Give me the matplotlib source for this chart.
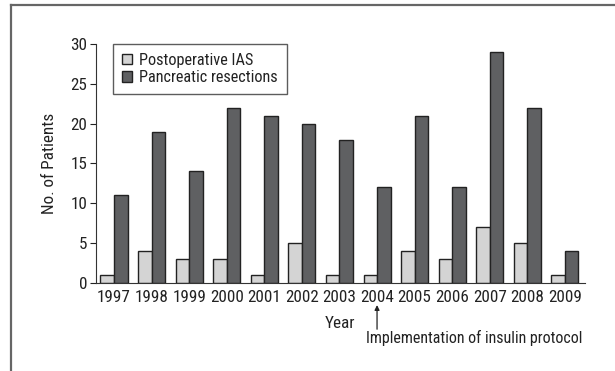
import matplotlib.pyplot as plt
import matplotlib.lines as mlines
import numpy as np

years = ['1997', '1998', '1999', '2000', '2001', '2002', '2003',
         '2004', '2005', '2006', '2007', '2008', '2009']
ias = [1, 4, 3, 3, 1, 5, 1, 1, 4, 3, 7, 5, 1]
resections = [11, 19, 14, 22, 21, 20, 18, 12, 21, 12, 29, 22, 4]

plt.rcParams['font.family'] = ['Roboto Condensed', 'DejaVu Sans']
plt.rcParams['font.size'] = 12.3
plt.rcParams['text.color'] = '#222222'
plt.rcParams['axes.labelcolor'] = '#222222'
plt.rcParams['xtick.color'] = '#222222'
plt.rcParams['ytick.color'] = '#222222'

fig = plt.figure(figsize=(6.15, 3.71), dpi=100)
ax = fig.add_axes([0.156, 0.2372, 0.795, 0.6442])

x = np.arange(len(years))
w = 0.36
ax.bar(x - w/2, ias, w, color='#d4d4d4', edgecolor='#222222', linewidth=1,
       label='Postoperative IAS')
ax.bar(x + w/2, resections, w, color='#5f6062', edgecolor='#222222', linewidth=1,
       label='Pancreatic resections')

ax.set_xlim(-0.48, 12.53)
ax.set_ylim(0, 30)
ax.set_yticks(range(0, 31, 5))
ax.set_xticks(x)
ax.set_xticklabels(years)
ax.tick_params(axis='x', length=0, pad=5)
ax.tick_params(axis='y', length=4, direction='out', pad=2)
for s in ['top', 'right']:
    ax.spines[s].set_visible(False)
for s in ['left', 'bottom']:
    ax.spines[s].set_color('#333333')
ax.set_ylabel('No. of Patients', labelpad=10)
ax.set_xlabel('Year', labelpad=8)

ax.legend(loc='upper left', bbox_to_anchor=(0.035, 1.0), frameon=True,
          fancybox=False, edgecolor='#333333', fontsize=11.7,
          handlelength=0.62, handleheight=0.62, handletextpad=0.45,
          borderpad=0.55, labelspacing=0.15, borderaxespad=0)

# arrow marking the protocol start under 2004
ax.annotate('', xy=(7, -2.77), xytext=(7, -5.8), xycoords='data',
            annotation_clip=False,
            arrowprops=dict(arrowstyle='-|>', color='#222222', lw=0.9,
                            mutation_scale=7, shrinkA=0, shrinkB=0))
ax.text(6.7, -7.55, 'Implementation of insulin protocol', ha='left',
        va='baseline', fontsize=11.5)

# figure frame (left and top lines)
fig.add_artist(mlines.Line2D([11/615, 11/615], [0, 1 - 5/371],
                             transform=fig.transFigure, color='#666666', lw=1.6))
fig.add_artist(mlines.Line2D([11/615, 1], [1 - 5/371, 1 - 5/371],
                             transform=fig.transFigure, color='#666666', lw=1.6))

fig.savefig('out.png', dpi=100)
